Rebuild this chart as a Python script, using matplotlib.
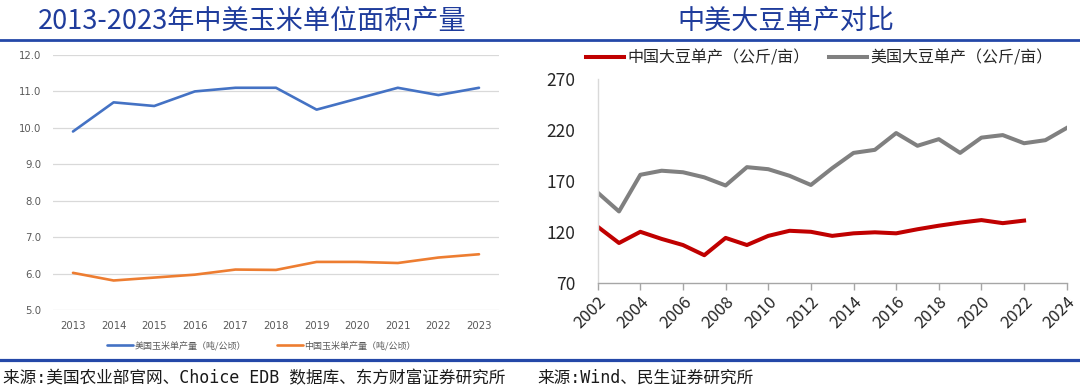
import matplotlib
matplotlib.use("Agg")
import matplotlib.pyplot as plt
from matplotlib.lines import Line2D
import numpy as np

# ---------------- data ----------------
corn_years = ["2013", "2014", "2015", "2016", "2017", "2018", "2019", "2020", "2021", "2022", "2023"]
us_corn = [9.9, 10.7, 10.6, 11.0, 11.1, 11.1, 10.5, 10.8, 11.1, 10.9, 11.1]
cn_corn = [6.02, 5.81, 5.89, 5.97, 6.11, 6.10, 6.32, 6.32, 6.29, 6.44, 6.53]
corn_yticks = [5.0, 6.0, 7.0, 8.0, 9.0, 10.0, 11.0, 12.0]

soy_years_cn = list(range(2002, 2023))
cn_soy = [125, 109, 120, 113, 107, 97, 114, 107, 116, 121, 120, 116, 118.5, 119.5, 118.5,
          122.5, 126, 129, 131.5, 128.5, 131]
soy_years_us = list(range(2002, 2025))
us_soy = [158.5, 140, 176, 180, 178.5, 173.5, 165.5, 183.5, 181.5, 175, 166, 182.5, 197.5,
          200.5, 217, 204.5, 211, 197.5, 212.5, 215, 207, 210, 222]
soy_xticks = list(range(2002, 2025, 2))
soy_yticks = [70, 120, 170, 220, 270]

title_left = "2013-2023年中美玉米单位面积产量"
title_right = "中美大豆单产对比"
legend_corn = ["美国玉米单产量（吨/公顷）", "中国玉米单产量（吨/公顷）"]
legend_soy = ["中国大豆单产（公斤/亩）", "美国大豆单产（公斤/亩）"]
source_left = "来源:美国农业部官网、Choice EDB 数据库、东方财富证券研究所"
source_right = "来源:Wind、民生证券研究所"

CJK = ["Noto Sans CJK SC", "DejaVu Sans"]
plt.rcParams["font.family"] = CJK

W, H = 1080, 392
fig = plt.figure(figsize=(W / 100, H / 100), dpi=100)
fig.patch.set_facecolor("white")

def fx(px):
    return px / W

def fy(py):
    return 1 - py / H

TITLE_BLUE = "#1f3c9c"
RULE_BLUE = "#2448a8"

# titles
fig.text(fx(252), fy(21), title_left, ha="center", va="center", fontsize=19.5,
         color=TITLE_BLUE, family=CJK)
fig.text(fx(786), fy(21), title_right, ha="center", va="center", fontsize=19.5,
         color=TITLE_BLUE, family=CJK)

# rule lines
fig.add_artist(Line2D([0, 1], [fy(39.5), fy(39.5)], transform=fig.transFigure,
                      color=RULE_BLUE, lw=2.0))
fig.add_artist(Line2D([0, 1], [fy(360), fy(360)], transform=fig.transFigure,
                      color=RULE_BLUE, lw=2.3))

# ---------------- left chart ----------------
axL = fig.add_axes([fx(52.7), fy(310), fx(499.3) - fx(52.7), (310 - 55) / H])
x = np.arange(len(corn_years))
l1, = axL.plot(x, us_corn, color="#4472c4", lw=1.9, solid_capstyle="round")
l2, = axL.plot(x, cn_corn, color="#ed7d31", lw=1.9, solid_capstyle="round")
axL.set_xlim(-0.5, len(corn_years) - 0.5)
axL.set_ylim(5.0, 12.0)
axL.set_yticks(corn_yticks)
axL.set_yticklabels([f"{v:.1f}" for v in corn_yticks])
axL.set_xticks(x)
axL.set_xticklabels(corn_years)
axL.grid(axis="y", color="#d9d9d9", lw=0.9)
axL.set_axisbelow(True)
for s in axL.spines.values():
    s.set_visible(False)
axL.tick_params(axis="both", length=0, labelsize=7.3, labelcolor="#595959")
axL.tick_params(axis="y", pad=8)
axL.tick_params(axis="x", pad=8)
for lab in axL.get_xticklabels() + axL.get_yticklabels():
    lab.set_family(["DejaVu Sans"])

axL.legend([l1, l2], legend_corn, loc="center", bbox_to_anchor=(fx(261.5), fy(345.7)),
           bbox_transform=fig.transFigure, ncol=2, frameon=False, fontsize=6.5,
           handlelength=2.9, handletextpad=0.1, columnspacing=3.5,
           labelcolor="#595959", borderpad=0, borderaxespad=0)

# ---------------- right chart ----------------
axR = fig.add_axes([fx(597.7), fy(282.7), fx(1066.7) - fx(597.7), (282.7 - 79.1) / H])
r1, = axR.plot(soy_years_cn, cn_soy, color="#c00000", lw=2.9, solid_joinstyle="round")
r2, = axR.plot(soy_years_us, us_soy, color="#808080", lw=2.9, solid_joinstyle="round")
axR.set_xlim(2002, 2024)
axR.set_ylim(70, 270)
axR.set_yticks(soy_yticks)
axR.set_xticks(soy_xticks)
axR.set_xticklabels([str(v) for v in soy_xticks], rotation=45, ha="right",
                    rotation_mode="anchor")
for s in ["top", "right"]:
    axR.spines[s].set_visible(False)
axR.spines["left"].set_color("#d9d9d9")
axR.spines["left"].set_linewidth(1.0)
axR.spines["bottom"].set_color("#a6a6a6")
axR.spines["bottom"].set_linewidth(1.0)
axR.tick_params(axis="y", length=0, pad=16, labelsize=12.5, labelcolor="#262626")
axR.tick_params(axis="x", length=5, width=1.0, color="#a6a6a6", direction="out",
                pad=3, labelsize=12, labelcolor="#262626")

axR.legend([r1, r2], legend_soy, loc="center", bbox_to_anchor=(fx(819), fy(58)),
           bbox_transform=fig.transFigure, ncol=2, frameon=False, fontsize=11.5,
           handlelength=2.4, handletextpad=0.2, columnspacing=1.2,
           labelcolor="#262626", borderpad=0, borderaxespad=0)

# ---------------- sources ----------------
SRC = ["DejaVu Sans Mono", "Noto Sans CJK SC"]
fig.text(fx(3), fy(378), source_left, ha="left", va="center", fontsize=12,
         color="#1a1a1a", family=SRC)
fig.text(fx(537), fy(378), source_right, ha="left", va="center", fontsize=12,
         color="#1a1a1a", family=SRC)

fig.savefig("out.png", dpi=100, facecolor="white")
